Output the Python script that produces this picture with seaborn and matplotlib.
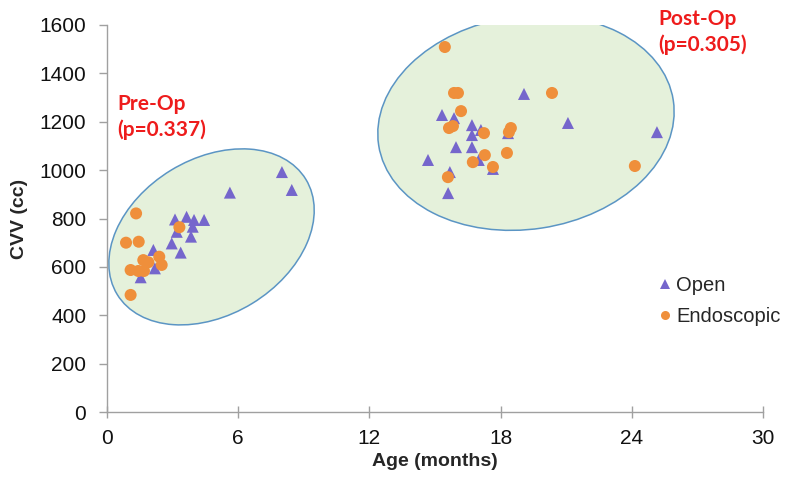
import matplotlib
matplotlib.use("Agg")
import matplotlib.pyplot as plt
import seaborn as sns
import pandas as pd
from matplotlib.patches import Ellipse
from matplotlib.transforms import ScaledTranslation

# ---- data ----
pre_open_age = [3.11, 3.64, 3.98, 4.44, 3.92, 3.84, 3.19, 2.96, 3.37, 2.12, 2.19, 1.54, 8.00, 8.45, 5.62]
pre_open_cvv = [796, 807, 794, 794, 766, 725, 745, 697, 659, 670, 594, 557, 992, 918, 907]

pre_endo_age = [1.33, 0.87, 1.45, 3.31, 1.66, 1.89, 2.39, 2.50, 1.08, 1.43, 1.69, 1.08]
pre_endo_cvv = [821, 700, 704, 764, 628, 619, 642, 608, 587, 583, 583, 484]

post_open_age = [19.07, 15.32, 15.87, 16.69, 17.10, 16.69, 15.96, 16.69, 14.68, 17.00, 15.68, 15.60, 18.34, 17.65, 21.08, 25.15]
post_open_cvv = [1315, 1228, 1215, 1186, 1166, 1145, 1095, 1095, 1042, 1042, 992, 905, 1153, 1005, 1195, 1157]

post_endo_age = [15.45, 15.87, 16.05, 16.19, 15.64, 15.82, 17.24, 18.47, 18.38, 17.28, 18.29, 16.73, 17.65, 15.59, 20.35, 24.14]
post_endo_cvv = [1509, 1319, 1319, 1244, 1174, 1182, 1153, 1174, 1157, 1062, 1071, 1033, 1013, 971, 1319, 1017]

x_ticks = [0, 6, 12, 18, 24, 30]
y_ticks = [0, 200, 400, 600, 800, 1000, 1200, 1400, 1600]
groups = ["Open", "Endoscopic"]
colors = {"Open": "#7566cc", "Endoscopic": "#ef8f3b"}
markers = {"Open": "^", "Endoscopic": "o"}

df = pd.DataFrame({
    "Age": pre_open_age + pre_endo_age + post_open_age + post_endo_age,
    "CVV": pre_open_cvv + pre_endo_cvv + post_open_cvv + post_endo_cvv,
    "Group": (["Open"] * len(pre_open_age) + ["Endoscopic"] * len(pre_endo_age)
              + ["Open"] * len(post_open_age) + ["Endoscopic"] * len(post_endo_age)),
})

sns.set_theme(style="white")
plt.rcParams["font.family"] = ["Liberation Sans", "DejaVu Sans"]

fig = plt.figure(figsize=(8, 4.78), dpi=100)
ax = fig.add_axes([107 / 800, 1 - 412 / 478, (763 - 107) / 800, (412 - 25) / 478])

# ellipses (sizes in inches, centers in data coords)
for (cx, cy, w, h, ang) in [(4.78, 724, 2.21, 1.56, 31.4), (19.16, 1196, 2.98, 2.13, 8.65)]:
    tr = fig.dpi_scale_trans + ScaledTranslation(cx, cy, ax.transData)
    e = Ellipse((0, 0), w, h, angle=ang, transform=tr, facecolor="#e5f1db",
                edgecolor="#5b95c4", linewidth=1.1, zorder=1)
    ax.add_patch(e)

sns.scatterplot(data=df, x="Age", y="CVV", hue="Group", style="Group",
                hue_order=groups, style_order=groups, palette=colors,
                markers=markers, s=75, linewidth=0, ax=ax, zorder=3, legend=True)

ax.set_xlim(0, 30)
ax.set_ylim(0, 1600)
ax.set_xticks(x_ticks)
ax.set_yticks(y_ticks)
ax.tick_params(axis="both", labelsize=15, colors="#111111")
ax.tick_params(axis="y", direction="out", length=6, width=1, color="#a0a0a0", pad=9, left=True)
ax.tick_params(axis="x", direction="inout", length=9, width=1, color="#a0a0a0", pad=8, bottom=True)
for s in ["top", "right"]:
    ax.spines[s].set_visible(False)
for s in ["left", "bottom"]:
    ax.spines[s].set_color("#a0a0a0")
    ax.spines[s].set_linewidth(1)

ax.set_xlabel("Age (months)", fontsize=14, fontweight="bold", labelpad=3)
ax.set_ylabel("CVV (cc)", fontsize=14, fontweight="bold", labelpad=8)

red = "#ee1c1c"
ax.text(0.46, 1315, "Pre-Op\n(p=0.337)", color=red, fontsize=15, fontweight="bold",
        family=["Lato", "DejaVu Sans"], va="top", ha="left", linespacing=1.35, zorder=5)
ax.text(25.2, 1668, "Post-Op\n(p=0.305)", color=red, fontsize=15, fontweight="bold",
        family=["Lato", "DejaVu Sans"], va="top", ha="left", linespacing=1.35, zorder=5,
        clip_on=False)

handles, labels = ax.get_legend_handles_labels()
leg = ax.legend(handles, labels, frameon=False, fontsize=14.5, markerscale=0.75,
                handletextpad=0.05, handlelength=1.0, labelspacing=0.6,
                loc="upper left", bbox_to_anchor=((647 - 107) / 656, 1 - (268 - 25) / 387),
                borderaxespad=0)

fig.savefig("out.png", dpi=100)
